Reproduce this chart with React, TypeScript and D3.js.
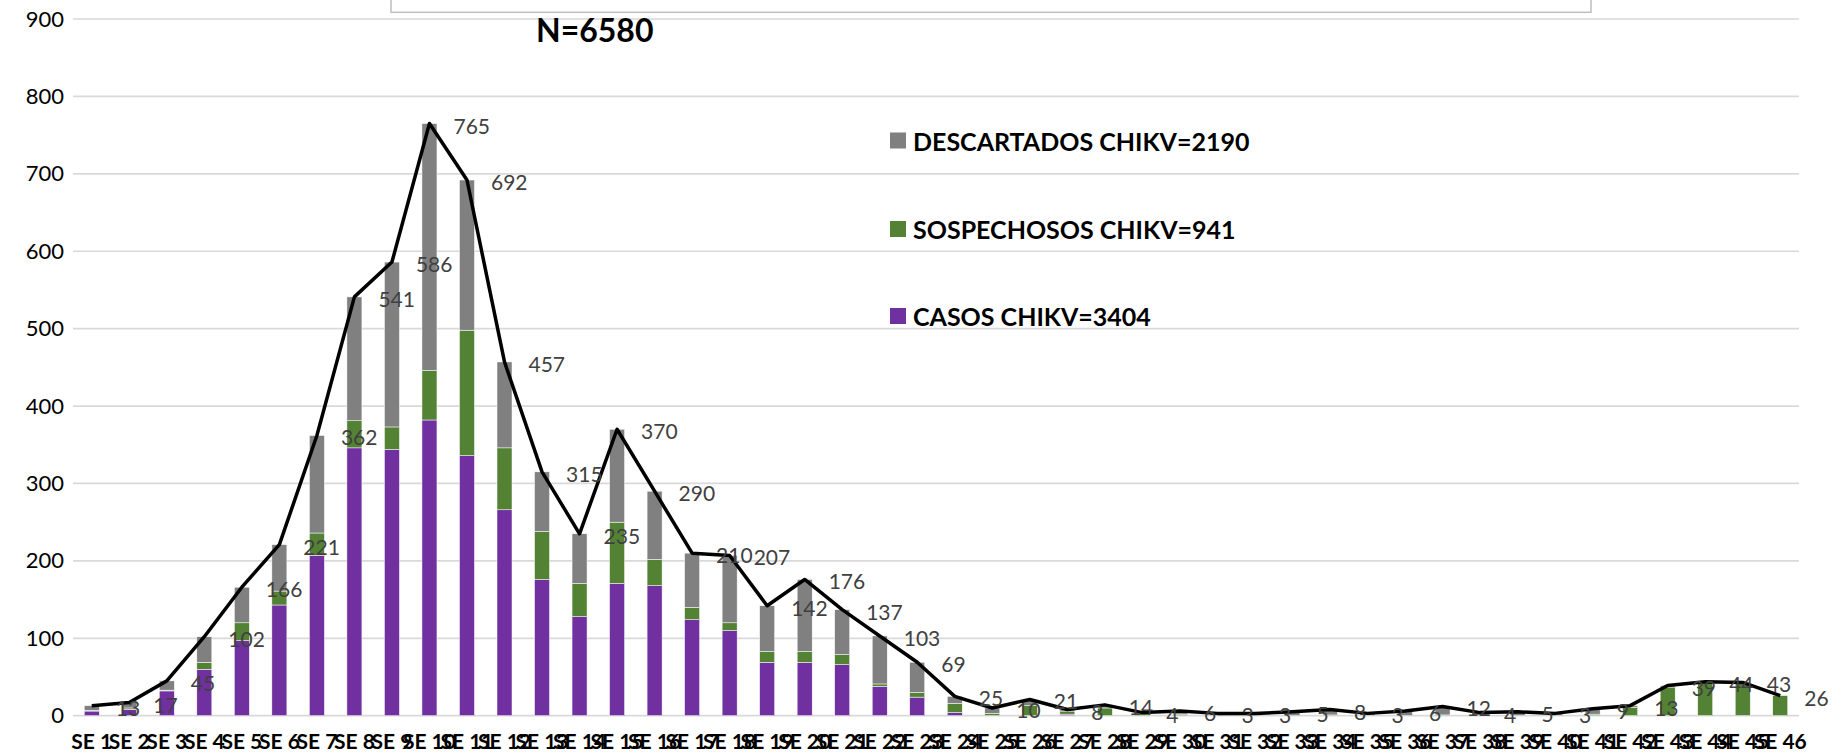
import React, { useRef, useEffect } from 'react';
import * as d3 from 'd3';

// semanas epidemiologicas
const weeks = [
  'SE 1', 'SE 2', 'SE 3', 'SE 4', 'SE 5', 'SE 6', 'SE 7', 'SE 8', 'SE 9', 'SE 10',
  'SE 11', 'SE 12', 'SE 13', 'SE 14', 'SE 15', 'SE 16', 'SE 17', 'SE 18', 'SE 19', 'SE 20',
  'SE 21', 'SE 22', 'SE 23', 'SE 24', 'SE 25', 'SE 26', 'SE 27', 'SE 28', 'SE 29', 'SE 30',
  'SE 31', 'SE 32', 'SE 33', 'SE 34', 'SE 35', 'SE 36', 'SE 37', 'SE 38', 'SE 39', 'SE 40',
  'SE 41', 'SE 42', 'SE 43', 'SE 44', 'SE 45', 'SE 46',
];

const casos = [
  6, 8, 32, 60, 97, 143, 207, 346, 344, 382,
  336, 266, 176, 128, 171, 168, 124, 110, 69, 69,
  66, 38, 24, 4, 0, 0, 2, 0, 0, 0,
  0, 0, 0, 0, 0, 0, 0, 0, 0, 0,
  0, 0, 0, 0, 0, 0,
];

const sospechosos = [
  1, 2, 1, 9, 23, 18, 29, 35, 29, 64,
  162, 80, 62, 43, 79, 34, 16, 10, 14, 14,
  13, 3, 6, 12, 3, 13, 4, 10, 3, 2,
  0, 0, 0, 1, 0, 0, 1, 0, 0, 0,
  2, 11, 37, 43, 43, 26,
];

const descartados = [
  6, 7, 12, 33, 46, 60, 126, 160, 213, 319,
  194, 111, 77, 64, 120, 88, 70, 87, 59, 93,
  58, 62, 39, 9, 7, 8, 2, 4, 1, 4,
  3, 3, 5, 7, 3, 6, 11, 4, 5, 3,
  7, 2, 2, 1, 0, 0,
];

const totales = [
  13, 17, 45, 102, 166, 221, 362, 541, 586, 765,
  692, 457, 315, 235, 370, 290, 210, 207, 142, 176,
  137, 103, 69, 25, 10, 21, 8, 14, 4, 6,
  3, 3, 5, 8, 3, 6, 12, 4, 5, 3,
  9, 13, 39, 44, 43, 26,
];

const yTicks = [0, 100, 200, 300, 400, 500, 600, 700, 800, 900];

const legendItems = [
  { label: 'DESCARTADOS CHIKV=2190', color: '#808080' },
  { label: 'SOSPECHOSOS CHIKV=941', color: '#548235' },
  { label: 'CASOS CHIKV=3404', color: '#7030a0' },
];

const keys = ['casos', 'sospechosos', 'descartados'];
const colors = { casos: '#7030a0', sospechosos: '#548235', descartados: '#808080' };

const FONT = 'Lato, "Open Sans", sans-serif';

export default function App() {
  const xAxisRef = useRef(null);
  const yAxisRef = useRef(null);

  // SET DIMENSIONS
  const w = 1841,
    h = 753;
  const left = 73,
    right = 1799,
    top = 19,
    bottom = 715.7;

  const x = d3.scaleBand().domain(weeks).range([left, right]).paddingInner(0.6).paddingOuter(0.3);
  const y = d3.scaleLinear().domain([0, 900]).range([bottom, top]);

  const table = weeks.map((wk, i) => ({
    week: wk,
    casos: casos[i],
    sospechosos: sospechosos[i],
    descartados: descartados[i],
  }));
  const series = d3.stack().keys(keys)(table);

  const cx = (wk) => x(wk) + x.bandwidth() / 2;
  const line = d3
    .line()
    .x((d, i) => cx(weeks[i]))
    .y((d) => y(d));

  useEffect(() => {
    const yAxis = d3.axisLeft(y).tickValues(yTicks).tickSize(0).tickPadding(9);
    const ya = d3.select(yAxisRef.current).call(yAxis);
    ya.select('.domain').remove();
    ya.selectAll('text').attr('font-family', FONT).attr('font-size', 22).attr('fill', '#000');

    const xAxis = d3.axisBottom(x).tickSize(0).tickPadding(18);
    const xa = d3.select(xAxisRef.current).call(xAxis);
    xa.select('.domain').remove();
    xa.selectAll('text')
      .attr('font-family', FONT)
      .attr('font-size', 21)
      .attr('font-weight', 700)
      .attr('fill', '#000');
  }, []);

  return (
    <svg
      width={w}
      height={h}
      style={{ position: 'absolute', left: 0, top: 0, background: '#fff' }}
    >
      {/* gridlines */}
      {yTicks.map((t) => (
        <line key={t} x1={left} x2={right} y1={y(t)} y2={y(t)} stroke="#d9d9d9" strokeWidth={1.7} />
      ))}

      {/* title box, cut at the top */}
      <rect x={391} y={-10} width={1200} height={22.3} fill="#fff" stroke="#bfbfbf" strokeWidth={1.5} />
      <text x={536} y={42} fontFamily={FONT} fontWeight={700} fontSize={32} fill="#000">
        N=6580
      </text>

      {/* stacked bars */}
      {series.map((s) => (
        <g key={s.key} fill={colors[s.key]}>
          {s.map((d, i) =>
            d[1] - d[0] > 0 ? (
              <rect
                key={i}
                x={x(weeks[i])}
                width={x.bandwidth()}
                y={y(d[1])}
                height={y(d[0]) - y(d[1])}
                stroke="#fff"
                strokeWidth={0.5}
              />
            ) : null
          )}
        </g>
      ))}

      {/* total line */}
      <path d={line(totales)} fill="none" stroke="#000" strokeWidth={3.5} strokeLinejoin="round" />

      {/* data labels */}
      {totales.map((v, i) => (
        <text
          key={i}
          x={cx(weeks[i]) + 24}
          y={y(v) + 1.5}
          dominantBaseline="central"
          fontFamily={FONT}
          fontSize={21}
          fill="#404040"
        >
          {v}
        </text>
      ))}

      {/* legend */}
      {legendItems.map((item, i) => {
        const cy = [140.5, 229, 316][i];
        return (
          <g key={item.label}>
            <rect x={890} y={cy - 8} width={16} height={16} fill={item.color} />
            <text
              x={913}
              y={cy}
              dominantBaseline="central"
              fontFamily={FONT}
              fontWeight={700}
              fontSize={25}
              fill="#000"
            >
              {item.label}
            </text>
          </g>
        );
      })}

      <g ref={yAxisRef} transform={`translate(${left},0)`} />
      <g ref={xAxisRef} transform={`translate(0,${bottom})`} />
    </svg>
  );
}
